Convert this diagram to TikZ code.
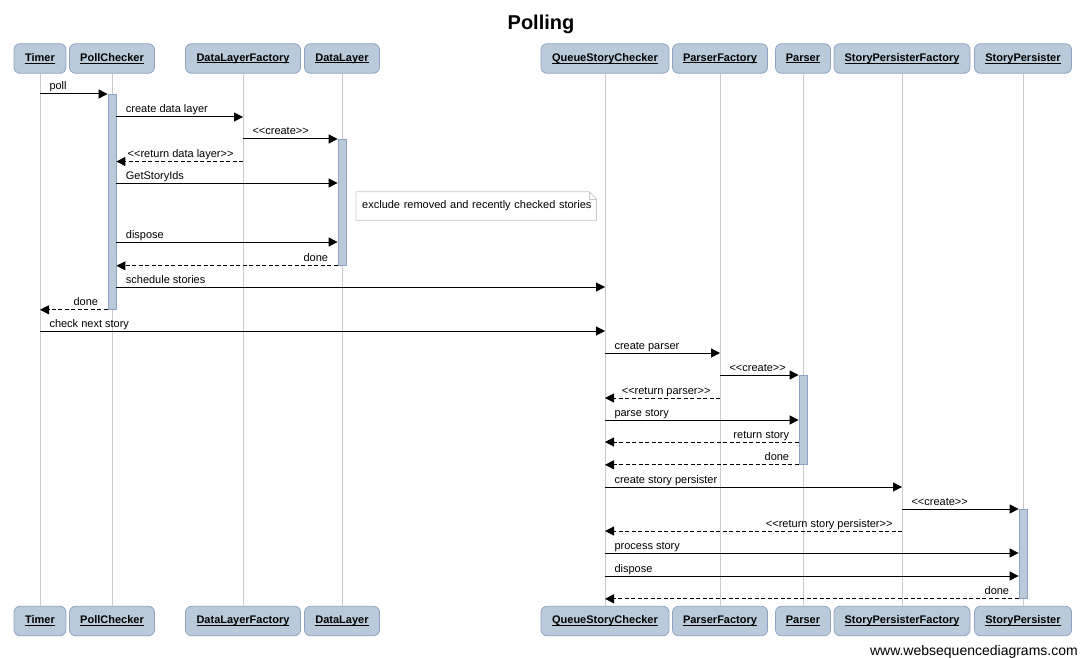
\documentclass[tikz,border=0pt]{standalone}
\usepackage{fontspec}
\setmainfont{Liberation Sans}
\usetikzlibrary{arrows.meta}
\definecolor{boxfill}{HTML}{B9CBDA}
\definecolor{boxline}{HTML}{8FA2C2}
\definecolor{lifegray}{HTML}{CACACA}
\definecolor{notegray}{HTML}{C8C8C8}
\newcommand\ulname[1]{\underline{\raisebox{0pt}[\height][0pt]{#1}}}
\newcommand\lt{<{}}
\newcommand\gt{>{}}
\begin{document}
\begin{tikzpicture}[x=1pt,y=-1pt,
  part/.style={draw=boxline, fill=boxfill, rounded corners=6pt, minimum height=29.5pt, inner sep=0pt, font=\fontsize{11}{13}\selectfont\bfseries, line width=0.8pt},
  life/.style={draw=lifegray, line width=1pt},
  act/.style={draw=boxline, fill=boxfill, minimum width=8pt, inner sep=0pt, anchor=north, line width=0.8pt},
  msg/.style={line width=1pt, -{Triangle[length=9pt,width=9pt]}},
  ret/.style={msg, dash pattern=on 4pt off 2.5pt},
  lbl/.style={font=\fontsize{11}{13}\selectfont, inner sep=0pt},
  fl/.style={lbl, pos=0, anchor=base west, xshift=9pt, yshift=4pt},
  bl/.style={lbl, pos=0, anchor=base east, xshift=-9pt, yshift=4pt},
]
\useasboundingbox (0,0) rectangle (1081,658);
\node[font=\fontsize{20}{24}\selectfont\bfseries, anchor=base] (title) at (541,30) {Polling};
% participants top
\node[part, minimum width=52pt]  (tmT)  at (40,58.5)  {\ulname{Timer}};
\node[part, minimum width=85pt]  (pcT)  at (112,58.5) {\ulname{PollChecker}};
\node[part, minimum width=115pt] (dlfT) at (243,58.5) {\ulname{DataLayerFactory}};
\node[part, minimum width=75pt]  (dlT)  at (342,58.5) {\ulname{DataLayer}};
\node[part, minimum width=128pt] (qscT) at (605,58.5) {\ulname{QueueStoryChecker}};
\node[part, minimum width=95pt]  (pfT)  at (720,58.5) {\ulname{ParserFactory}};
\node[part, minimum width=55pt]  (prT)  at (803,58.5) {\ulname{Parser}};
\node[part, minimum width=136pt] (spfT) at (902,58.5) {\ulname{StoryPersisterFactory}};
\node[part, minimum width=97pt]  (spT)  at (1023,58.5){\ulname{StoryPersister}};
% participants bottom
\node[part, minimum width=52pt]  (tmB)  at (40,621)  {\ulname{Timer}};
\node[part, minimum width=85pt]  (pcB)  at (112,621) {\ulname{PollChecker}};
\node[part, minimum width=115pt] (dlfB) at (243,621) {\ulname{DataLayerFactory}};
\node[part, minimum width=75pt]  (dlB)  at (342,621) {\ulname{DataLayer}};
\node[part, minimum width=128pt] (qscB) at (605,621) {\ulname{QueueStoryChecker}};
\node[part, minimum width=95pt]  (pfB)  at (720,621) {\ulname{ParserFactory}};
\node[part, minimum width=55pt]  (prB)  at (803,621) {\ulname{Parser}};
\node[part, minimum width=136pt] (spfB) at (902,621) {\ulname{StoryPersisterFactory}};
\node[part, minimum width=97pt]  (spB)  at (1023,621){\ulname{StoryPersister}};
% lifelines
\foreach \p in {tm,pc,dlf,dl,qsc,pf,pr,spf,sp} \draw[life] (\p T) -- (\p B);
% activations
\node[act, minimum height=215pt] (pcA) at (112,94) {};
\node[act, minimum height=126pt] (dlA) at (342,139) {};
\node[act, minimum height=89pt]  (prA) at (803,375) {};
\node[act, minimum height=89pt]  (spA) at (1023,509) {};
% note
\node[lbl, anchor=west, inner xsep=6pt, minimum height=28pt, text width=228pt] (note) at (356,206) {\mbox{exclude removed and recently checked stories}};
\draw[notegray, line width=0.8pt] (note.north west) -- ([xshift=-7pt]note.north east) -- ([yshift=-7pt]note.north east) -- (note.south east) -- (note.south west) -- cycle;
\draw[notegray, line width=0.6pt] ([xshift=-7pt]note.north east) |- ([yshift=-7pt]note.north east);
% messages
\draw[msg] (tmT |- 0,94) -- node[fl]{poll} (pcA.north west);
\draw[msg] (pcA.east |- 0,117) -- node[fl]{create data layer} (dlfT |- 0,117);
\draw[msg] (dlfT |- 0,139) -- node[fl]{\lt\lt create\gt\gt} (dlA.north west);
\draw[ret] (dlfT |- 0,161.5) -- node[bl]{\lt\lt return data layer\gt\gt} (pcA.east |- 0,161.5);
\draw[msg] (pcA.east |- 0,183) -- node[fl]{GetStoryIds} (dlA.west |- 0,183);
\draw[msg] (pcA.east |- 0,242) -- node[fl]{dispose} (dlA.west |- 0,242);
\draw[ret] (dlA.south west) -- node[bl]{done} (pcA.east |- dlA.south west);
\draw[msg] (pcA.east |- 0,287) -- node[fl]{schedule stories} (qscT |- 0,287);
\draw[ret] (pcA.south west) -- node[bl]{done} (tmT |- pcA.south west);
\draw[msg] (tmT |- 0,331) -- node[fl]{check next story} (qscT |- 0,331);
\draw[msg] (qscT |- 0,353) -- node[fl]{create parser} (pfT |- 0,353);
\draw[msg] (pfT |- 0,375) -- node[fl]{\lt\lt create\gt\gt} (prA.north west);
\draw[ret] (pfT |- 0,398) -- node[bl]{\lt\lt return parser\gt\gt} (qscT |- 0,398);
\draw[msg] (qscT |- 0,420) -- node[fl]{parse story} (prA.west |- 0,420);
\draw[ret] (prA.west |- 0,442) -- node[bl]{return story} (qscT |- 0,442);
\draw[ret] (prA.south west) -- node[bl]{done} (qscT |- prA.south west);
\draw[msg] (qscT |- 0,487) -- node[fl]{create story persister} (spfT |- 0,487);
\draw[msg] (spfT |- 0,509) -- node[fl]{\lt\lt create\gt\gt} (spA.north west);
\draw[ret] (spfT |- 0,531) -- node[bl]{\lt\lt return story persister\gt\gt} (qscT |- 0,531);
\draw[msg] (qscT |- 0,553) -- node[fl]{process story} (spA.west |- 0,553);
\draw[msg] (qscT |- 0,576) -- node[fl]{dispose} (spA.west |- 0,576);
\draw[ret] (spA.south west) -- node[bl]{done} (qscT |- spA.south west);
% watermark
\node[font=\fontsize{14}{16}\selectfont, anchor=base east, inner sep=0pt] (wm) at (1078,655) {www.websequencediagrams.com};
\end{tikzpicture}
\end{document}
